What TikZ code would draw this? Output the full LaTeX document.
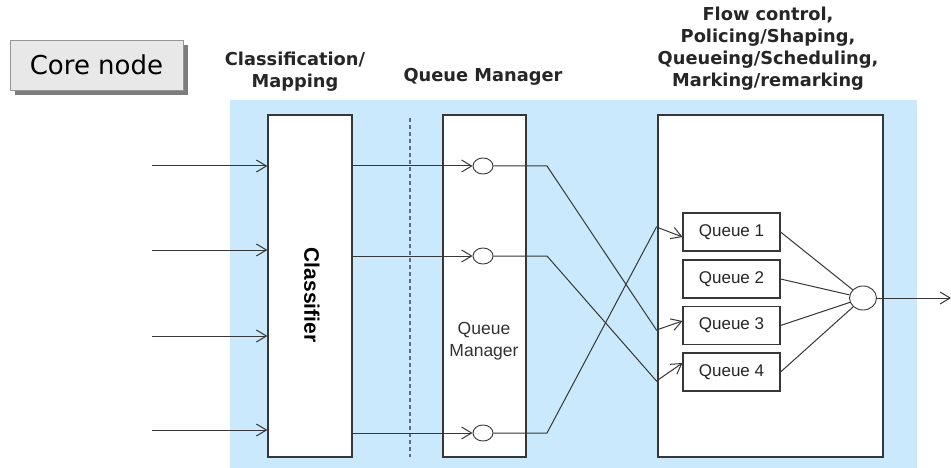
\documentclass[tikz,border=0pt]{standalone}
\usepackage{fontspec}
\setmainfont{Liberation Sans}
\newfontfamily\titlefont{DejaVu Sans}
\usetikzlibrary{arrows.meta,shapes.geometric,shadows,calc}

\definecolor{areablue}{RGB}{202,233,252}
\definecolor{linec}{RGB}{55,55,55}
\definecolor{dashc}{RGB}{95,110,130}
\definecolor{tagfill}{RGB}{232,232,232}
\definecolor{tagline}{RGB}{150,150,150}
\definecolor{tagshadow}{RGB}{125,125,125}

\begin{document}
\begin{tikzpicture}[x=1pt,y=-1pt,
  box/.style={draw=linec, line width=1.3pt, fill=white, inner sep=0pt},
  qbox/.style={draw=linec, line width=1.1pt, fill=white, inner sep=0pt,
    minimum width=97pt, minimum height=38pt, font=\fontsize{17}{20}\selectfont, text=black!85},
  link/.style={draw=linec, line width=1pt},
  flow/.style={link, -{Straight Barb[length=10pt,width=12pt,line width=1pt]}},
  port/.style={ellipse, draw=linec, line width=0.9pt, fill=white, inner sep=0pt,
    minimum width=20pt, minimum height=16pt},
  title/.style={font=\titlefont\bfseries\fontsize{17.8}{22}\selectfont, align=center, text=black!85}
]
\useasboundingbox (0,0) rectangle (951,468);

% shaded core-node area
\fill[areablue] (230,100) rectangle (917,468);

% tag in the upper left corner
\node[draw=tagline, fill=tagfill, line width=0.8pt, minimum width=173pt, minimum height=50pt,
  drop shadow={shadow xshift=5pt, shadow yshift=-5pt, fill=tagshadow, opacity=1},
  font=\titlefont\fontsize{26}{30}\selectfont] (tag) at (96.5,65) {Core node};

% column titles
\node[title] (t1) at (295,72) {Classification/\\Mapping};
\node[title] (t2) at (483,77) {Queue Manager};
\node[title] (t3) at (768,49) {Flow control,\\Policing/Shaping,\\Queueing/Scheduling,\\Marking/remarking};

% main blocks
\node[box, minimum width=84pt, minimum height=342pt] (cls) at (310,286) {};
\node[rotate=-90, font=\bfseries\fontsize{21}{24}\selectfont] (clstext) at (312,295) {Classifier};
\node[box, minimum width=83pt, minimum height=342pt] (qm) at (484.5,286) {};
\node[align=center, font=\fontsize{17.5}{22}\selectfont, text=black!80] (qmtext) at (484,341) {Queue\\Manager};
\node[box, minimum width=225pt, minimum height=342pt] (fc) at (770.5,286) {};

% separator between classification and queueing
\coordinate (sepa) at (410,118);
\coordinate (sepb) at (410,457);
\draw[dashc, line width=1.3pt, dash pattern=on 4pt off 3pt] (sepa) -- (sepb);

% queues
\node[qbox] (q1) at (731.5,232) {Queue 1};
\node[qbox] (q2) at (731.5,279) {Queue 2};
\node[qbox] (q3) at (731.5,325.5) {Queue 3};
\node[qbox] (q4) at (731.5,372) {Queue 4};

% ports in the queue manager and the scheduler
\node[port] (c1) at (483,166) {};
\node[port] (c2) at (483,256) {};
\node[port] (c3) at (483,433) {};
\node[port, minimum width=27pt, minimum height=24pt] (mrg) at (863,298) {};

% incoming traffic
\coordinate (in1) at (152,166);
\coordinate (in2) at (152,250);
\coordinate (in3) at (152,336);
\coordinate (in4) at (152,430);
\foreach \i in {1,...,4}
  \draw[flow] (in\i) -- (in\i -| cls.west);

% classifier to queue manager
\draw[flow] (cls.east |- c1) -- (c1.west);
\draw[flow] (cls.east |- c2) -- (c2.west);
\draw[flow] (cls.east |- c3) -- (c3.west);

% queue manager to queues
\coordinate (b1) at (547,166);
\coordinate (b2) at (547,256);
\coordinate (b3) at (547,433);
\draw[flow] (c1.east) -- (b1) -- ($(q3.west)+(-26,4.5)$) -- ([yshift=4.5pt]q3.west);
\draw[flow] (c2.east) -- (b2) -- ($(q4.west)+(-26,9)$) -- ([yshift=9pt]q4.west);
\draw[flow] (c3.east) -- (b3) -- ($(q1.west)+(-26,-5)$) -- ([yshift=-5pt]q1.west);

% scheduler
\foreach \q in {q1,q2,q3,q4}
  \draw[link] (\q.east) -- (mrg);
\coordinate (out) at (951,298);
\draw[flow] (mrg.east) -- (out);
\end{tikzpicture}
\end{document}
